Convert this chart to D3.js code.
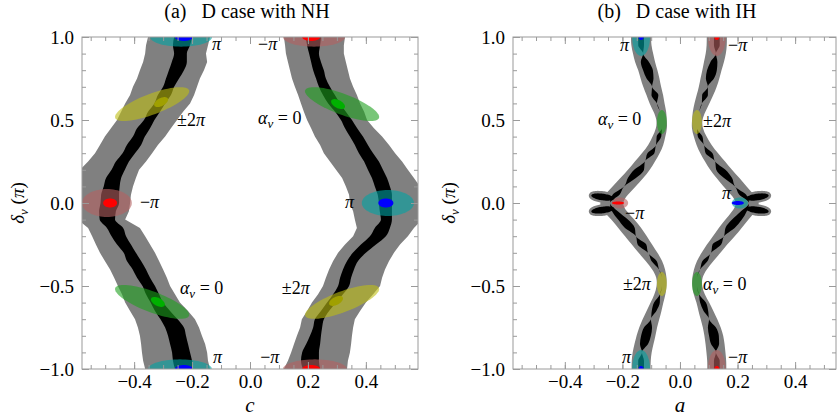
<!DOCTYPE html>
<html>
<head>
<meta charset="utf-8">
<script src="https://cdn.jsdelivr.net/npm/d3@7"></script>
<style>
  body { margin: 0; background: #fff; }
</style>
</head>
<body>
<svg id="chart" width="838" height="420"></svg>
<script>
// δν 采样网格 (单位 π)
const deltaGrid = [1.00, 0.95, 0.90, 0.85, 0.80, 0.75, 0.70, 0.65, 0.60, 0.55, 0.50, 0.45, 0.40, 0.35, 0.30, 0.25, 0.20, 0.15, 0.10, 0.05, 0.00,
  -0.05, -0.10, -0.15, -0.20, -0.25, -0.30, -0.35, -0.40, -0.45, -0.50, -0.55, -0.60, -0.65, -0.70, -0.75, -0.80, -0.85, -0.90, -0.95, -1.00];

// (a) NH：左带 / 右带的灰色(3σ)与黑色(1σ)边界，c 值
const nhLeftGrayL = [-0.352, -0.359, -0.362, -0.369, -0.380, -0.390, -0.404, -0.414, -0.431, -0.445, -0.459, -0.480, -0.501, -0.518, -0.535, -0.559, -0.587, -0.601, -0.608, -0.614, -0.614,
  -0.611, -0.594, -0.559, -0.545, -0.532, -0.518, -0.501, -0.483, -0.469, -0.456, -0.442, -0.431, -0.414, -0.397, -0.387, -0.380, -0.376, -0.373, -0.369, -0.362];
const nhLeftGrayR = [-0.138, -0.145, -0.152, -0.148, -0.159, -0.173, -0.183, -0.193, -0.207, -0.231, -0.252, -0.273, -0.293, -0.318, -0.338, -0.359, -0.383, -0.394, -0.404, -0.411, -0.414,
  -0.418, -0.431, -0.380, -0.362, -0.345, -0.328, -0.314, -0.300, -0.287, -0.276, -0.259, -0.242, -0.214, -0.190, -0.176, -0.166, -0.155, -0.148, -0.145, -0.138];
const nhLeftBlackL = [-0.262, -0.266, -0.262, -0.270, -0.280, -0.290, -0.300, -0.318, -0.330, -0.352, -0.366, -0.390, -0.404, -0.425, -0.440, -0.463, -0.478, -0.497, -0.505, -0.514, -0.516,
  -0.521, -0.519, -0.494, -0.478, -0.459, -0.436, -0.425, -0.405, -0.390, -0.371, -0.359, -0.343, -0.328, -0.309, -0.293, -0.283, -0.276, -0.269, -0.266, -0.259];
const nhLeftBlackR = [-0.200, -0.207, -0.218, -0.218, -0.228, -0.245, -0.262, -0.273, -0.293, -0.311, -0.330, -0.345, -0.363, -0.376, -0.397, -0.418, -0.432, -0.445, -0.450, -0.452, -0.452,
  -0.463, -0.466, -0.438, -0.428, -0.411, -0.394, -0.376, -0.359, -0.345, -0.328, -0.314, -0.300, -0.276, -0.250, -0.228, -0.221, -0.214, -0.207, -0.200, -0.197];
const nhRightGrayL = [0.117, 0.121, 0.124, 0.131, 0.138, 0.145, 0.155, 0.166, 0.176, 0.186, 0.197, 0.211, 0.224, 0.242, 0.255, 0.276, 0.297, 0.318, 0.331, 0.342, 0.345,
  0.356, 0.362, 0.369, 0.356, 0.328, 0.304, 0.287, 0.273, 0.262, 0.252, 0.235, 0.214, 0.197, 0.179, 0.173, 0.162, 0.152, 0.142, 0.131, 0.117];
const nhRightGrayR = [0.328, 0.324, 0.324, 0.331, 0.338, 0.345, 0.356, 0.369, 0.380, 0.394, 0.404, 0.428, 0.456, 0.480, 0.501, 0.525, 0.545, 0.566, 0.587, 0.594, 0.601,
  0.601, 0.594, 0.566, 0.545, 0.518, 0.497, 0.480, 0.466, 0.456, 0.449, 0.425, 0.400, 0.380, 0.362, 0.356, 0.352, 0.349, 0.345, 0.338, 0.335];
const nhRightBlackL = [0.193, 0.197, 0.204, 0.211, 0.218, 0.228, 0.238, 0.252, 0.270, 0.294, 0.314, 0.328, 0.345, 0.362, 0.376, 0.394, 0.407, 0.421, 0.431, 0.441, 0.445,
  0.448, 0.452, 0.431, 0.414, 0.383, 0.355, 0.335, 0.321, 0.311, 0.304, 0.287, 0.266, 0.245, 0.224, 0.218, 0.207, 0.194, 0.180, 0.176, 0.183];
const nhRightBlackR = [0.245, 0.242, 0.238, 0.245, 0.255, 0.262, 0.276, 0.293, 0.311, 0.331, 0.352, 0.370, 0.390, 0.407, 0.425, 0.445, 0.459, 0.473, 0.483, 0.490, 0.490,
  0.490, 0.490, 0.483, 0.469, 0.435, 0.400, 0.373, 0.359, 0.349, 0.342, 0.321, 0.297, 0.273, 0.255, 0.249, 0.245, 0.242, 0.238, 0.238, 0.242];

// (b) IH：带中心线 a 值、灰色半宽、黑色斑块半宽
const ihLeftMid = [-0.135, -0.135, -0.128, -0.122, -0.111, -0.104, -0.097, -0.087, -0.080, -0.069, -0.063, -0.063, -0.073, -0.083, -0.101, -0.122, -0.142, -0.167, -0.194, -0.222, -0.243,
  -0.226, -0.198, -0.174, -0.153, -0.132, -0.111, -0.090, -0.073, -0.063, -0.063, -0.069, -0.080, -0.090, -0.101, -0.111, -0.118, -0.125, -0.132, -0.135, -0.135];
const ihLeftGray = [0.035, 0.035, 0.035, 0.035, 0.033, 0.033, 0.031, 0.029, 0.026, 0.022, 0.017, 0.019, 0.022, 0.026, 0.031, 0.035, 0.038, 0.040, 0.040, 0.040, 0.040,
  0.040, 0.040, 0.040, 0.038, 0.035, 0.033, 0.029, 0.022, 0.017, 0.017, 0.019, 0.022, 0.026, 0.029, 0.031, 0.033, 0.033, 0.033, 0.033, 0.033];
const ihLeftBlack = [0.010, 0.010, 0, 0.014, 0.017, 0.012, 0, 0.012, 0, 0, 0, 0, 0.008, 0, 0.012, 0, 0.017, 0.014, 0, 0.012, 0,
  0.010, 0.017, 0.017, 0, 0.015, 0, 0.009, 0, 0, 0, 0, 0.010, 0.008, 0, 0.014, 0.017, 0.014, 0, 0.010, 0.010];
const ihRightMid = [0.128, 0.128, 0.125, 0.118, 0.111, 0.104, 0.097, 0.087, 0.076, 0.066, 0.059, 0.059, 0.070, 0.083, 0.101, 0.122, 0.142, 0.167, 0.191, 0.218, 0.240,
  0.222, 0.198, 0.174, 0.153, 0.128, 0.108, 0.087, 0.070, 0.059, 0.059, 0.066, 0.080, 0.090, 0.101, 0.111, 0.118, 0.122, 0.125, 0.128, 0.128];
const ihRightGray = [0.035, 0.035, 0.035, 0.035, 0.033, 0.033, 0.031, 0.029, 0.026, 0.022, 0.017, 0.019, 0.022, 0.026, 0.031, 0.035, 0.038, 0.040, 0.040, 0.040, 0.040,
  0.040, 0.040, 0.040, 0.038, 0.035, 0.033, 0.029, 0.022, 0.017, 0.017, 0.019, 0.022, 0.026, 0.029, 0.031, 0.033, 0.033, 0.033, 0.033, 0.033];
const ihRightBlack = [0.010, 0.010, 0, 0.012, 0.017, 0.014, 0, 0.010, 0, 0, 0, 0, 0.008, 0, 0.012, 0, 0.016, 0.014, 0, 0.012, 0,
  0.010, 0.017, 0.016, 0, 0.015, 0, 0.009, 0, 0, 0, 0, 0.010, 0.008, 0, 0.014, 0.017, 0.014, 0, 0.010, 0.010];
// δ≈0 处的黑色翼状区域 [a, δ, ra, rδ, 倾斜]
const ihLobes = [[-0.268, 0.036, 0.040, 0.022, -0.4], [-0.268, -0.042, 0.040, 0.022, 0.4],
  [0.268, 0.036, 0.040, 0.022, 0.4], [0.268, -0.042, 0.040, 0.022, -0.4]];

// 彩色区域 [x, δ, rx, rδ, 相关系数, 相位]
const nhRegions = [
  [-0.238, 1.0, 0.107, 0.058, 0, "pi"], [-0.242, -1.0, 0.110, 0.058, 0, "pi"],
  [0.221, 1.0, 0.107, 0.058, 0, "-pi"], [0.224, -1.0, 0.110, 0.058, 0, "-pi"],
  [-0.494, 0, 0.086, 0.084, 0, "-pi"], [0.476, 0, 0.090, 0.078, 0, "pi"],
  [-0.338, 0.596, 0.128, 0.102, 0.76, "2pi"], [0.318, 0.596, 0.128, 0.102, -0.76, "0"],
  [-0.338, -0.596, 0.128, 0.102, -0.76, "0"], [0.318, -0.596, 0.128, 0.102, 0.76, "2pi"]
];
const nhBest = [
  [-0.228, 1.0, 0.031, 0.024, 0, "pi"], [-0.228, -1.0, 0.031, 0.024, 0, "pi"],
  [0.211, 1.0, 0.031, 0.024, 0, "-pi"], [0.211, -1.0, 0.031, 0.024, 0, "-pi"],
  [-0.483, 0, 0.024, 0.027, 0, "-pi"], [0.469, 0, 0.026, 0.027, 0, "pi"],
  [-0.307, 0.608, 0.024, 0.030, 0.5, "2pi"], [0.304, 0.596, 0.024, 0.030, -0.5, "0"],
  [-0.318, -0.596, 0.024, 0.030, -0.5, "0"], [0.297, -0.590, 0.024, 0.030, 0.5, "2pi"]
];
const ihRegions = [
  [-0.135, 1.0, 0.031, 0.114, 0, "pi"], [-0.135, -1.0, 0.031, 0.114, 0, "pi"],
  [0.128, 1.0, 0.031, 0.114, 0, "-pi"], [0.128, -1.0, 0.031, 0.114, 0, "-pi"],
  [-0.063, 0.488, 0.017, 0.072, 0, "0"], [0.059, 0.488, 0.017, 0.072, 0, "2pi"],
  [-0.063, -0.488, 0.017, 0.072, 0, "2pi"], [0.059, -0.488, 0.017, 0.072, 0, "0"],
  [-0.208, 0, 0.028, 0.033, 0, "-pi"], [0.208, 0, 0.028, 0.033, 0, "pi"]
];
const ihBest = [
  [-0.135, 1.0, 0.009, 0.018, 0, "pi"], [-0.135, -1.0, 0.009, 0.018, 0, "pi"],
  [0.128, 1.0, 0.009, 0.018, 0, "-pi"], [0.128, -1.0, 0.009, 0.018, 0, "-pi"],
  [-0.215, 0, 0.021, 0.009, 0, "-pi"], [0.201, 0, 0.021, 0.012, 0, "pi"]
];

// 标注 [x, δ, 相位]
const nhLabels = [[-0.131, 0.922, "pi"], [0.028, 0.922, "-pi"], [-0.252, 0.464, "2pi"], [-0.380, -0.030, "-pi"],
  [0.028, 0.476, "0"], [0.328, -0.030, "pi"], [-0.242, -0.548, "0"], [0.110, -0.548, "2pi"],
  [-0.128, -0.964, "pi"], [0.035, -0.964, "-pi"]];
const ihLabels = [[-0.208, 0.916, "pi"], [0.167, 0.916, "-pi"], [-0.285, 0.470, "0"], [0.080, 0.458, "2pi"],
  [-0.191, -0.096, "-pi"], [0.146, 0.024, "pi"], [-0.198, -0.524, "2pi"], [0.080, -0.524, "0"],
  [-0.201, -0.964, "pi"], [0.167, -0.964, "-pi"]];

const xTickValues = [-0.4, -0.2, 0.0, 0.2, 0.4];
const yTickValues = [-1.0, -0.5, 0.0, 0.5, 1.0];

// 颜色与字体
const regionColor = { "pi": "rgb(0,163,163)", "-pi": "rgb(180,97,97)", "2pi": "rgb(190,190,20)", "0": "rgb(30,160,30)" };
const bestColor = { "pi": "#0000ff", "-pi": "#ff0000", "2pi": "#a0a000", "0": "#00b000" };
const frameColor = "#9a9a9a";
const serif = '"Liberation Serif", "Times New Roman", serif';

const svg = d3.select("#chart").style("font-family", serif);
const plotTop = 37, plotBottom = 369;

// 椭圆路径（数据坐标中的相关椭圆）
function ellipsePath(e, x, y) {
  const [cx, cy, rx, ry, rho] = e;
  const s = Math.sqrt(1 - rho * rho);
  const pts = d3.range(72).map(k => {
    const t = k / 72 * 2 * Math.PI;
    return [x(cx + rx * Math.cos(t)), y(cy + ry * (rho * Math.cos(t) + s * Math.sin(t)))];
  });
  return d3.line()(pts) + "Z";
}

function phaseLabel(g, px, py, phase) {
  const t = g.append("text").attr("x", px).attr("y", py)
    .style("font-family", serif).attr("font-size", 18).style("white-space", "pre");
  if (phase === "0") {
    t.append("tspan").attr("font-style", "italic").text("α");
    t.append("tspan").attr("font-style", "italic").attr("font-size", 13).attr("dy", 4).text("ν");
    t.append("tspan").attr("dy", -4).text(" = 0");
  } else {
    const pre = phase === "pi" ? "" : (phase === "-pi" ? "−" : "±2");
    if (pre) t.append("tspan").text(pre);
    t.append("tspan").attr("font-style", "italic").text("π");
  }
}

function drawPanel(opt) {
  const x = d3.scaleLinear().domain([-0.58, opt.xMax]).range([opt.left, opt.right]);
  const y = d3.scaleLinear().domain([-1, 1]).range([plotBottom, plotTop]);
  const g = svg.append("g");

  svg.append("clipPath").attr("id", "clip-" + opt.key)
    .append("rect")
    .attr("x", opt.left).attr("y", plotTop)
    .attr("width", opt.right - opt.left).attr("height", plotBottom - plotTop);
  const plot = g.append("g").attr("clip-path", `url(#clip-${opt.key})`);

  // 带状区域
  opt.bands(plot, x, y);

  // 彩色区域（半透明）
  plot.selectAll("path.region").data(opt.regions).enter()
    .append("path").attr("class", "region")
    .attr("d", d => ellipsePath(d, x, y))
    .attr("fill", d => regionColor[d[5]])
    .attr("fill-opacity", 0.6);

  // 最佳拟合点
  plot.selectAll("path.best").data(opt.best).enter()
    .append("path").attr("class", "best")
    .attr("d", d => ellipsePath(d, x, y))
    .attr("fill", d => bestColor[d[5]]);

  // 外框
  g.append("rect")
    .attr("x", opt.left).attr("y", plotTop)
    .attr("width", opt.right - opt.left).attr("height", plotBottom - plotTop)
    .attr("fill", "none").attr("stroke", frameColor);

  // 刻度（向内）
  const minorX = d3.range(-0.55, 0.5501, 0.05).filter(v => v < opt.xMax - 0.005);
  const minorY = d3.range(-1, 1.0001, 0.1);
  const fmt = d3.format(".1f");
  const axes = [
    [d3.axisBottom(x).tickValues(xTickValues).tickFormat(fmt).tickPadding(6), `translate(0,${plotBottom})`, -7],
    [d3.axisBottom(x).tickValues(minorX).tickFormat(""), `translate(0,${plotBottom})`, -4],
    [d3.axisTop(x).tickValues(xTickValues).tickFormat(""), `translate(0,${plotTop})`, -7],
    [d3.axisTop(x).tickValues(minorX).tickFormat(""), `translate(0,${plotTop})`, -4],
    [d3.axisLeft(y).tickValues(yTickValues).tickFormat(fmt).tickPadding(8), `translate(${opt.left},0)`, -7],
    [d3.axisLeft(y).tickValues(minorY).tickFormat(""), `translate(${opt.left},0)`, -4],
    [d3.axisRight(y).tickValues(yTickValues).tickFormat(""), `translate(${opt.right},0)`, -7],
    [d3.axisRight(y).tickValues(minorY).tickFormat(""), `translate(${opt.right},0)`, -4]
  ];
  axes.forEach(([axis, tr, size]) => {
    const ag = g.append("g").attr("transform", tr)
      .call(axis.tickSizeInner(size).tickSizeOuter(0));
    ag.attr("font-family", null).attr("font-size", null);
    ag.select(".domain").remove();
    ag.selectAll(".tick line").attr("stroke", frameColor);
    ag.selectAll(".tick text")
      .style("font-family", serif)
      .attr("font-size", 19).attr("fill", "#000");
  });

  // 标注
  opt.labels.forEach(l => phaseLabel(g, x(l[0]), y(l[1]), l[2]));

  // 标题
  g.append("text")
    .attr("x", x(0) - 3).attr("y", 18)
    .attr("text-anchor", "middle").attr("font-size", 20)
    .style("font-family", serif).style("white-space", "pre")
    .text(opt.title);

  // x 轴名
  g.append("text")
    .attr("x", x(0)).attr("y", 412)
    .attr("text-anchor", "middle").attr("font-size", 21)
    .style("font-family", serif).attr("font-style", "italic")
    .text(opt.xName);

  // y 轴名
  const yt = g.append("text")
    .attr("transform", `translate(${opt.left - 58},${y(0)}) rotate(-90)`)
    .attr("text-anchor", "middle").attr("font-size", 19)
    .style("font-family", serif).style("white-space", "pre");
  yt.append("tspan").attr("font-style", "italic").text("δ");
  yt.append("tspan").attr("font-style", "italic").attr("font-size", 13).attr("dy", 4).text("ν");
  yt.append("tspan").attr("dy", -4).text(" (");
  yt.append("tspan").attr("font-style", "italic").text("π");
  yt.append("tspan").text(")");
}

// (a) 带
function nhBands(plot, x, y) {
  const band = (L, R, curve) => d3.area().curve(curve)
    .y((d, i) => y(deltaGrid[i]))
    .x0((d, i) => x(L[i]))
    .x1((d, i) => x(R[i]));
  plot.append("path").datum(deltaGrid).attr("d", band(nhLeftGrayL, nhLeftGrayR, d3.curveLinear)).attr("fill", "#808080");
  plot.append("path").datum(deltaGrid).attr("d", band(nhRightGrayL, nhRightGrayR, d3.curveLinear)).attr("fill", "#808080");
  plot.append("path").datum(deltaGrid).attr("d", band(nhLeftBlackL, nhLeftBlackR, d3.curveMonotoneY)).attr("fill", "#000");
  plot.append("path").datum(deltaGrid).attr("d", band(nhRightBlackL, nhRightBlackR, d3.curveMonotoneY)).attr("fill", "#000");
}

// (b) 带
function ihBands(plot, x, y) {
  const band = (mid, hw, curve) => d3.area().curve(curve)
    .y((d, i) => y(deltaGrid[i]))
    .x0((d, i) => x(mid[i] - hw[i]))
    .x1((d, i) => x(mid[i] + hw[i]));
  plot.append("path").datum(deltaGrid).attr("d", band(ihLeftMid, ihLeftGray, d3.curveBasis)).attr("fill", "#808080");
  plot.append("path").datum(deltaGrid).attr("d", band(ihRightMid, ihRightGray, d3.curveBasis)).attr("fill", "#808080");
  plot.selectAll("path.lobe-halo").data(ihLobes).enter()
    .append("path").attr("class", "lobe-halo")
    .attr("d", d => ellipsePath(d, x, y))
    .attr("fill", "#808080").attr("stroke", "#808080").attr("stroke-width", 5).attr("stroke-linejoin", "round");
  plot.append("path").datum(deltaGrid).attr("d", band(ihLeftMid, ihLeftBlack, d3.curveMonotoneY)).attr("fill", "#000");
  plot.append("path").datum(deltaGrid).attr("d", band(ihRightMid, ihRightBlack, d3.curveMonotoneY)).attr("fill", "#000");
  plot.selectAll("path.lobe").data(ihLobes).enter()
    .append("path").attr("class", "lobe")
    .attr("d", d => ellipsePath(d, x, y))
    .attr("fill", "#000");
}

drawPanel({ key: "nh", left: 82, right: 418, xMax: 0.58, title: "(a)   D case with NH", xName: "c",
  bands: nhBands, regions: nhRegions, best: nhBest, labels: nhLabels });
drawPanel({ key: "ih", left: 513, right: 836, xMax: 0.542, title: "(b)   D case with IH", xName: "a",
  bands: ihBands, regions: ihRegions, best: ihBest, labels: ihLabels });
</script>
</body>
</html>
